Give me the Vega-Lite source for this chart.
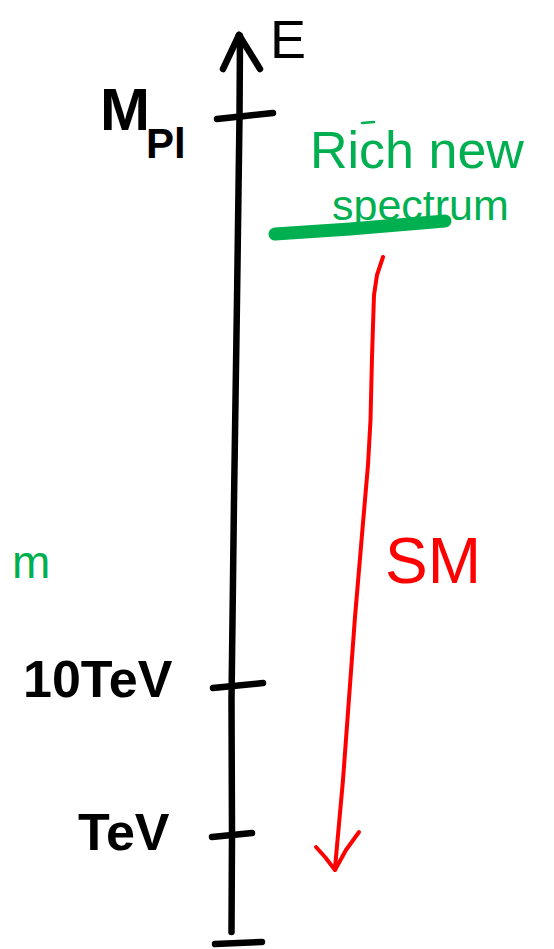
{
  "$schema": "https://vega.github.io/schema/vega-lite/v6.json",
  "width": 554,
  "height": 949,
  "autosize": {"type": "fit", "contains": "padding"},
  "padding": 0,
  "background": "white",
  "config": {"view": {"stroke": null}},
  "datasets": {
    "strokes": [
      {"id": "axis", "ink": "black", "order": 0, "x": 240, "y": 36},
      {"id": "axis", "ink": "black", "order": 1, "x": 239.5, "y": 117},
      {"id": "axis", "ink": "black", "order": 2, "x": 237, "y": 300},
      {"id": "axis", "ink": "black", "order": 3, "x": 234, "y": 500},
      {"id": "axis", "ink": "black", "order": 4, "x": 231.5, "y": 700},
      {"id": "axis", "ink": "black", "order": 5, "x": 232, "y": 835},
      {"id": "axis", "ink": "black", "order": 6, "x": 231.5, "y": 932},
      {"id": "arrowL", "ink": "black", "order": 0, "x": 223, "y": 69},
      {"id": "arrowL", "ink": "black", "order": 1, "x": 239, "y": 35},
      {"id": "arrowR", "ink": "black", "order": 0, "x": 239, "y": 35},
      {"id": "arrowR", "ink": "black", "order": 1, "x": 260, "y": 69},
      {"id": "tickPl", "ink": "black", "order": 0, "x": 217, "y": 119},
      {"id": "tickPl", "ink": "black", "order": 1, "x": 245, "y": 116},
      {"id": "tickPl", "ink": "black", "order": 2, "x": 273, "y": 113},
      {"id": "tick10", "ink": "black", "order": 0, "x": 213, "y": 688},
      {"id": "tick10", "ink": "black", "order": 1, "x": 263, "y": 683},
      {"id": "tickTeV", "ink": "black", "order": 0, "x": 212, "y": 837},
      {"id": "tickTeV", "ink": "black", "order": 1, "x": 252, "y": 833},
      {"id": "tickBot", "ink": "black", "order": 0, "x": 215, "y": 944},
      {"id": "tickBot", "ink": "black", "order": 1, "x": 262, "y": 942},
      {"id": "sm", "ink": "red", "order": 0, "x": 383, "y": 257},
      {"id": "sm", "ink": "red", "order": 1, "x": 377, "y": 275},
      {"id": "sm", "ink": "red", "order": 2, "x": 374, "y": 295},
      {"id": "sm", "ink": "red", "order": 3, "x": 372, "y": 357},
      {"id": "sm", "ink": "red", "order": 4, "x": 370.5, "y": 420},
      {"id": "sm", "ink": "red", "order": 5, "x": 368, "y": 465},
      {"id": "sm", "ink": "red", "order": 6, "x": 363, "y": 523},
      {"id": "sm", "ink": "red", "order": 7, "x": 355, "y": 617},
      {"id": "sm", "ink": "red", "order": 8, "x": 343, "y": 780},
      {"id": "sm", "ink": "red", "order": 9, "x": 335, "y": 868},
      {"id": "smL", "ink": "red", "order": 0, "x": 316, "y": 847},
      {"id": "smL", "ink": "red", "order": 1, "x": 325, "y": 857},
      {"id": "smL", "ink": "red", "order": 2, "x": 335, "y": 870},
      {"id": "smR", "ink": "red", "order": 0, "x": 335, "y": 870},
      {"id": "smR", "ink": "red", "order": 1, "x": 346, "y": 850},
      {"id": "smR", "ink": "red", "order": 2, "x": 359, "y": 832},
      {"id": "under", "ink": "green", "order": 0, "x": 275, "y": 234},
      {"id": "under", "ink": "green", "order": 1, "x": 350, "y": 229},
      {"id": "under", "ink": "green", "order": 2, "x": 445, "y": 221},
      {"id": "dash", "ink": "green", "order": 0, "x": 362, "y": 123},
      {"id": "dash", "ink": "green", "order": 1, "x": 374, "y": 122}
    ],
    "labels": [
      {"id": "E", "ink": "black", "x": 270, "y": 58, "text": "E"},
      {"id": "M", "ink": "black", "x": 100, "y": 130, "text": "M"},
      {"id": "Pl", "ink": "black", "x": 146, "y": 158, "text": "Pl"},
      {"id": "rich", "ink": "green", "x": 310, "y": 168, "text": "Rich new"},
      {"id": "spec", "ink": "green", "x": 332, "y": 220, "text": "spectrum"},
      {"id": "SM", "ink": "red", "x": 385, "y": 583, "text": "SM"},
      {"id": "m", "ink": "green", "x": 12, "y": 578, "text": "m"},
      {"id": "10TeV", "ink": "black", "x": 23, "y": 697, "text": "10TeV"},
      {"id": "TeV", "ink": "black", "x": 78, "y": 850, "text": "TeV"}
    ]
  },
  "encoding": {
    "x": {"field": "x", "type": "quantitative", "scale": {"domain": [0, 554], "nice": false, "zero": false}, "axis": null},
    "y": {"field": "y", "type": "quantitative", "scale": {"domain": [0, 949], "nice": false, "zero": false, "reverse": true}, "axis": null},
    "color": {"field": "ink", "type": "nominal", "scale": {"domain": ["black", "green", "red"], "range": ["#000000", "#00B050", "#FF0000"]}, "legend": null}
  },
  "layer": [
    {
      "data": {"name": "strokes"},
      "transform": [{"filter": "datum.ink === 'black'"}],
      "mark": {"type": "line", "strokeWidth": 6.5, "strokeCap": "round", "strokeJoin": "round"},
      "encoding": {"detail": {"field": "id"}, "order": {"field": "order", "type": "quantitative"}}
    },
    {
      "data": {"name": "strokes"},
      "transform": [{"filter": "datum.ink === 'red'"}],
      "mark": {"type": "line", "strokeWidth": 4, "strokeCap": "round", "strokeJoin": "round"},
      "encoding": {"detail": {"field": "id"}, "order": {"field": "order", "type": "quantitative"}}
    },
    {
      "data": {"name": "strokes"},
      "transform": [{"filter": "datum.id === 'under'"}],
      "mark": {"type": "line", "strokeWidth": 13, "strokeCap": "round", "strokeJoin": "round"},
      "encoding": {"detail": {"field": "id"}, "order": {"field": "order", "type": "quantitative"}}
    },
    {
      "data": {"name": "strokes"},
      "transform": [{"filter": "datum.id === 'dash'"}],
      "mark": {"type": "line", "strokeWidth": 2.5, "strokeCap": "round"},
      "encoding": {"detail": {"field": "id"}, "order": {"field": "order", "type": "quantitative"}}
    },
    {
      "data": {"name": "labels"},
      "transform": [{"filter": "datum.id === 'E'"}],
      "mark": {"type": "text", "font": "Liberation Sans", "fontSize": 54, "align": "left", "baseline": "alphabetic"},
      "encoding": {"text": {"field": "text"}}
    },
    {
      "data": {"name": "labels"},
      "transform": [{"filter": "datum.id === 'M'"}],
      "mark": {"type": "text", "font": "Liberation Sans", "fontSize": 60, "fontWeight": "bold", "align": "left", "baseline": "alphabetic"},
      "encoding": {"text": {"field": "text"}}
    },
    {
      "data": {"name": "labels"},
      "transform": [{"filter": "datum.id === 'Pl'"}],
      "mark": {"type": "text", "font": "Liberation Sans", "fontSize": 42, "fontWeight": "bold", "align": "left", "baseline": "alphabetic"},
      "encoding": {"text": {"field": "text"}}
    },
    {
      "data": {"name": "labels"},
      "transform": [{"filter": "datum.id === 'rich'"}],
      "mark": {"type": "text", "font": "Liberation Sans", "fontSize": 52, "align": "left", "baseline": "alphabetic"},
      "encoding": {"text": {"field": "text"}}
    },
    {
      "data": {"name": "labels"},
      "transform": [{"filter": "datum.id === 'spec'"}],
      "mark": {"type": "text", "font": "Liberation Sans", "fontSize": 43, "align": "left", "baseline": "alphabetic"},
      "encoding": {"text": {"field": "text"}}
    },
    {
      "data": {"name": "labels"},
      "transform": [{"filter": "datum.id === 'SM'"}],
      "mark": {"type": "text", "font": "Liberation Sans", "fontSize": 64, "align": "left", "baseline": "alphabetic"},
      "encoding": {"text": {"field": "text"}}
    },
    {
      "data": {"name": "labels"},
      "transform": [{"filter": "datum.id === 'm'"}],
      "mark": {"type": "text", "font": "Liberation Sans", "fontSize": 46, "align": "left", "baseline": "alphabetic"},
      "encoding": {"text": {"field": "text"}}
    },
    {
      "data": {"name": "labels"},
      "transform": [{"filter": "datum.id === '10TeV' || datum.id === 'TeV'"}],
      "mark": {"type": "text", "font": "Liberation Sans", "fontSize": 52, "fontWeight": "bold", "align": "left", "baseline": "alphabetic"},
      "encoding": {"text": {"field": "text"}}
    }
  ]
}
